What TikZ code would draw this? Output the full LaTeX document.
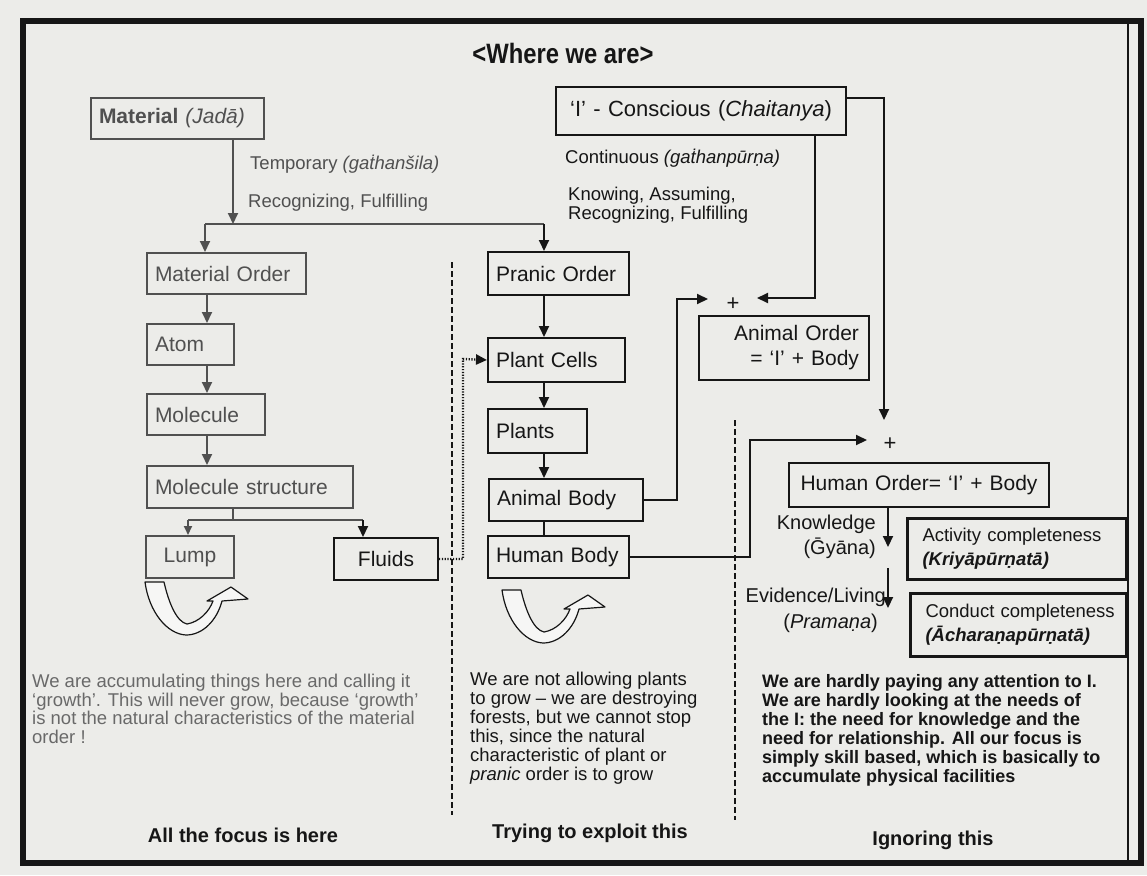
\documentclass[tikz,border=0pt]{standalone}
\usepackage{fontspec}
\setmainfont{Liberation Sans}
\newfontfamily\narrowsans[FakeStretch=0.85]{Liberation Sans}
\usetikzlibrary{arrows.meta}
\definecolor{paper}{RGB}{236,236,233}
\definecolor{ink}{RGB}{22,22,22}
\definecolor{faded}{RGB}{80,80,80}
\definecolor{pale}{RGB}{105,105,105}
\begin{document}
\begin{tikzpicture}[x=1pt,y=-1pt,
  every node/.style={inner sep=0pt},
  tip/.style={-{Triangle[length=11pt,width=10pt]}},
  link/.style={draw=ink,line width=2pt},
  greylink/.style={draw=faded,line width=2pt},
  box/.style={draw=ink,line width=2pt,anchor=north west,inner xsep=8pt,inner ysep=0pt,
    align=left,text=ink,font=\fontsize{21pt}{25pt}\selectfont},
  greybox/.style={box,draw=faded,text=faded},
  heavybox/.style={box,line width=3pt,inner xsep=15pt,font=\fontsize{18.5pt}{24pt}\selectfont},
  lab/.style={anchor=west,text=faded,font=\fontsize{18.5pt}{21pt}\selectfont},
  sidelab/.style={anchor=north east,align=right,text=ink,font=\fontsize{20pt}{25pt}\selectfont},
  divider/.style={draw=ink,line width=1.6pt,dash pattern=on 6pt off 3pt},
  footer/.style={font=\fontsize{20pt}{24pt}\selectfont\bfseries,text=ink},
  swoosh/.pic={
    \draw[fill=white!55!paper,draw=ink,line width=1.2pt,line join=round]
      (0,0) -- (19,0) .. controls (24,22) and (32,40) .. (42,42)
      .. controls (54,40) and (64,30) .. (68,19) -- (62,19) -- (86,5) -- (103,17) -- (77,19)
      .. controls (72,38) and (58,53) .. (41,53)
      .. controls (22,52) and (4,30) .. (0,0) -- cycle;
  }
]
\useasboundingbox (0,0) rectangle (1147,875);
\fill[paper] (0,0) rectangle (1147,875);

% page frame
\draw[ink,line width=6pt] (23,21) rectangle (1141,863);
\draw[ink,line width=2pt] (1128,24) -- (1128,860);

% heading
\node[font=\narrowsans\fontsize{28pt}{30pt}\selectfont\bfseries,text=ink] (title) at (563,53) {<Where we are>};

% top sources
\node[greybox,text width=157pt,minimum height=41pt] (mat) at (90,97)
  {\mbox{\textbf{Material} \textit{(Jadā)}}};
\node[box,text width=274pt,minimum height=48pt,align=center,font=\fontsize{22pt}{25pt}\selectfont] (con) at (555,86)
  {\mbox{‘I’ - Conscious (\textit{Chaitanya})}};

\node[lab] (tmp) at (250,164) {Temporary \textit{(gaṫhanšila)}};
\node[lab] (rf) at (248,203) {Recognizing, Fulfilling};
\node[lab,text=ink] (cnt) at (565,158) {Continuous \textit{(gaṫhanpūrṇa)}};
\node[lab,text=ink,anchor=north west,align=left,font=\fontsize{18.5pt}{19pt}\selectfont] (kar) at (568,187)
  {Knowing, Assuming,\\Recognizing, Fulfilling};

% material column
\node[greybox,text width=143pt,minimum height=41pt] (mo) at (146,252) {\mbox{Material Order}};
\node[greybox,text width=71pt,minimum height=41pt] (atom) at (146,323) {\mbox{Atom}};
\node[greybox,text width=102pt,minimum height=41pt] (mol) at (146,393) {\mbox{Molecule}};
\node[greybox,text width=190pt,minimum height=42pt] (ms) at (146,465) {\mbox{Molecule structure}};
\node[greybox,text width=72pt,minimum height=42pt,align=center] (lump) at (145,535) {\mbox{Lump}};
\node[box,text width=88pt,minimum height=42pt,align=center] (fluids) at (333,537) {\mbox{Fluids}};

% pranic column
\node[box,text width=125pt,minimum height=43pt] (po) at (487,251) {\mbox{Pranic Order}};
\node[box,text width=121pt,minimum height=44pt] (pc) at (487,337) {\mbox{Plant Cells}};
\node[box,text width=83pt,minimum height=44pt] (pl) at (487,408) {\mbox{Plants}};
\node[box,text width=138pt,minimum height=42pt] (ab) at (488,478) {\mbox{Animal Body}};
\node[box,text width=125pt,minimum height=42pt] (hb) at (487,535) {\mbox{Human Body}};

% conscious orders
\node[box,text width=150pt,minimum height=64pt,align=right,inner xsep=10pt] (ao) at (698,315)
  {Animal Order\\= ‘I’ + Body};
\node[box,text width=244pt,minimum height=44pt,align=center] (ho) at (788,462)
  {\mbox{Human Order= ‘I’ + Body}};
\node[heavybox,text width=189pt,minimum height=61pt] (ac) at (906,517)
  {\mbox{Activity completeness}\\\mbox{\textbf{\textit{(Kriyāpūrṇatā)}}}};
\node[heavybox,text width=186pt,minimum height=63pt] (cc) at (909,592)
  {\mbox{Conduct completeness}\\\mbox{\textbf{\textit{(Ācharaṇapūrṇatā)}}}};

\node[font=\fontsize{22pt}{22pt}\selectfont,text=ink] (plusA) at (733,304) {+};
\node[font=\fontsize{22pt}{22pt}\selectfont,text=ink] (plusH) at (890,444) {+};

\node[sidelab] (know) at (876,515) {Knowledge\\(Ḡyāna)};
\node[sidelab] (evid) at (886,588) {Evidence/Living};
\node[sidelab,anchor=north east] (pram) at (878,614) {(\textit{Pramaṇa})};

% split below the material source
\coordinate (split) at (233,224);
\coordinate (sL) at (205,224);
\coordinate (sR) at (544,224);
\draw[greylink,tip] (mat.south -| split) -- (split);
\draw[greylink] (sL) -- (sR);
\draw[greylink,tip] (sL) -- (sL |- mo.north);
\draw[link,tip] (sR) -- (sR |- po.north);

% material chain
\coordinate (c1) at (207,0);
\draw[greylink,tip] (mo.south -| c1) -- (atom.north -| c1);
\draw[greylink,tip] (atom.south -| c1) -- (mol.north -| c1);
\draw[greylink,tip] (mol.south -| c1) -- (ms.north -| c1);
\coordinate (mSplit) at (233,520);
\coordinate (lx) at (188,520);
\coordinate (fx) at (363,520);
\draw[greylink] (ms.south -| mSplit) -- (mSplit);
\draw[greylink] (lx) -- (fx);
\draw[greylink,-{Triangle[length=9pt,width=8pt]}] (lx) -- (lx |- lump.north);
\draw[link,tip] (fx) -- (fx |- fluids.north);

% pranic chain
\coordinate (c2) at (544,0);
\draw[link,tip] (po.south -| c2) -- (pc.north -| c2);
\draw[link,tip] (pc.south -| c2) -- (pl.north -| c2);
\draw[link,tip] (pl.south -| c2) -- (ab.north -| c2);
\draw[link] (ab.south -| c2) -- (hb.north -| c2);

% fluids feed the plant cells
\coordinate (fBend) at (463,359);
\draw[draw=ink,line width=2.4pt,dash pattern=on 1.2pt off 1.6pt,-{Triangle[length=11pt,width=10pt]}]
  (fluids.east) -| (fBend) -- (pc.west);

% bodies joining the conscious unit
\coordinate (aBend) at (677,299);
\coordinate (aIn) at (708,299);
\draw[link,tip] (ab.east) -| (aBend) -- (aIn);
\coordinate (iDrop) at (815,298);
\coordinate (aIn2) at (757,298);
\draw[link,tip] (con.south -| iDrop) -- (iDrop) -- (aIn2);
\coordinate (iTurn) at (884,98);
\coordinate (hIn1) at (884,420);
\draw[link,tip] (con.east |- iTurn) -- (iTurn) -- (hIn1);
\coordinate (hBend) at (750,440);
\coordinate (hIn2) at (867,440);
\draw[link,tip] (hb.east) -| (hBend) -- (hIn2);

% human order unfolding
\coordinate (kx) at (888,547);
\coordinate (ev1) at (888,568);
\coordinate (ev2) at (888,608);
\draw[link,tip] (ho.south -| kx) -- (kx);
\draw[link,tip] (ev1) -- (ev2);

% column dividers
\draw[divider] (452,262) -- (452,815);
\draw[divider] (735,420) -- (735,820);

% cycles
\pic at (145,582) {swoosh};
\pic at (502,590) {swoosh};

% notes
\node[anchor=north west,align=left,text=pale,font=\fontsize{18.5pt}{18.5pt}\selectfont] (n1) at (32,674)
  {We are accumulating things here and calling it\\
   ‘growth’. This will never grow, because ‘growth’\\
   is not the natural characteristics of the material\\
   order !};
\node[anchor=north west,align=left,text=ink,font=\fontsize{18.5pt}{19pt}\selectfont] (n2) at (470,672)
  {We are not allowing plants\\
   to grow – we are destroying\\
   forests, but we cannot stop\\
   this, since the natural\\
   characteristic of plant or\\
   \textit{pranic} order is to grow};
\node[anchor=north west,align=left,text=ink,font=\fontsize{18pt}{19pt}\selectfont\bfseries] (n3) at (762,674)
  {We are hardly paying any attention to I.\\
   We are hardly looking at the needs of\\
   the I: the need for knowledge and the\\
   need for relationship. All our focus is\\
   simply skill based, which is basically to\\
   accumulate physical facilities};

\node[footer] (f1) at (243,835) {All the focus is here};
\node[footer] (f2) at (590,833) {Trying to exploit this};
\node[footer] (f3) at (933,840) {Ignoring this};
\end{tikzpicture}
\end{document}
